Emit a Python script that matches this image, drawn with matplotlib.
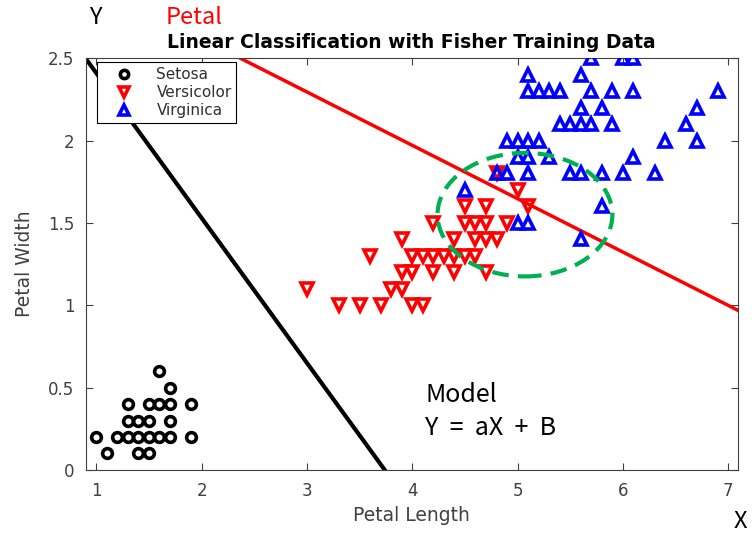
import matplotlib
matplotlib.use("Agg")
from matplotlib import pyplot as plt
from matplotlib.patches import Ellipse

# petal length / petal width
setosa_x = [1.0, 1.1, 1.2, 1.3, 1.4, 1.5, 1.6, 1.7, 1.9, 1.3, 1.4, 1.5, 1.7, 1.3, 1.5, 1.6, 1.7, 1.9, 1.4, 1.5, 1.7, 1.6]
setosa_y = [0.2, 0.1, 0.2, 0.2, 0.2, 0.2, 0.2, 0.2, 0.2, 0.3, 0.3, 0.3, 0.3, 0.4, 0.4, 0.4, 0.4, 0.4, 0.1, 0.1, 0.5, 0.6]

versi_x = [3.3, 3.5, 3.7, 4.0, 4.1,
           3.0, 3.8, 3.9,
           3.9, 4.0, 4.2, 4.4, 4.7,
           3.6, 4.0, 4.1, 4.2, 4.3, 4.4, 4.5, 4.6,
           3.9, 4.4, 4.6, 4.7, 4.8,
           4.2, 4.5, 4.6, 4.7, 4.9,
           4.5, 4.7, 5.1,
           5.0, 4.8]
versi_y = [1.0, 1.0, 1.0, 1.0, 1.0,
           1.1, 1.1, 1.1,
           1.2, 1.2, 1.2, 1.2, 1.2,
           1.3, 1.3, 1.3, 1.3, 1.3, 1.3, 1.3, 1.3,
           1.4, 1.4, 1.4, 1.4, 1.4,
           1.5, 1.5, 1.5, 1.5, 1.5,
           1.6, 1.6, 1.6,
           1.7, 1.8]

virg_x = [5.6, 5.0, 5.1, 5.8, 4.5,
          4.8, 4.9, 5.1, 5.5, 5.6, 5.8, 6.0, 6.3,
          5.0, 5.1, 5.3, 6.1,
          4.9, 5.0, 5.1, 5.2, 6.4, 6.7,
          5.4, 5.5, 5.6, 5.7, 5.9, 6.6,
          5.6, 5.8, 6.7,
          5.1, 5.2, 5.3, 5.4, 5.7, 5.9, 6.1, 6.9,
          5.1, 5.6,
          5.7, 6.0, 6.1]
virg_y = [1.4, 1.5, 1.5, 1.6, 1.7,
          1.8, 1.8, 1.8, 1.8, 1.8, 1.8, 1.8, 1.8,
          1.9, 1.9, 1.9, 1.9,
          2.0, 2.0, 2.0, 2.0, 2.0, 2.0,
          2.1, 2.1, 2.1, 2.1, 2.1, 2.1,
          2.2, 2.2, 2.2,
          2.3, 2.3, 2.3, 2.3, 2.3, 2.3, 2.3, 2.3,
          2.4, 2.4,
          2.5, 2.5, 2.5]

# boundary lines y = a*x + b
black_a, black_b = -0.88, 3.29
red_a, red_b = -0.324, 3.267

fig = plt.figure(figsize=(7.52, 5.34), dpi=100)
ax = fig.add_axes([0.114, 0.12, 0.867, 0.771])

ax.plot(setosa_x, setosa_y, 'o', mfc='none', mec='black', mew=2.6, ms=7, label='Setosa', zorder=3)
ax.plot(versi_x, versi_y, 'v', mfc='none', mec='red', mew=2.6, ms=8, label='Versicolor', zorder=3)
ax.plot(virg_x, virg_y, '^', mfc='none', mec='blue', mew=2.6, ms=8, label='Virginica', zorder=3)

xs = [0.9, 7.1]
ax.plot(xs, [black_a * v + black_b for v in xs], color='black', lw=3, zorder=2)
ax.plot(xs, [red_a * v + red_b for v in xs], color='red', lw=2.5, zorder=2)

ell = Ellipse((5.07, 1.55), 1.66, 0.75, fill=False, ec='#00B050', lw=3,
              ls=(0, (4, 2.2)), zorder=4)
ax.add_patch(ell)

ax.set_xlim(0.9, 7.09)
ax.set_ylim(0, 2.5)
ax.set_xticks([1, 2, 3, 4, 5, 6, 7])
ax.set_yticks([0, 0.5, 1, 1.5, 2, 2.5])
ax.set_yticklabels(['0', '0.5', '1', '1.5', '2', '2.5'])
ax.tick_params(direction='in', top=True, right=True, labelsize=12,
               labelcolor='#404040', color='#404040', length=5)
ax.tick_params(axis='x', pad=9)
ax.tick_params(axis='y', pad=8)
for s in ax.spines.values():
    s.set_color('#404040')

ax.set_xlabel('Petal Length', fontsize=13.5, color='#404040', labelpad=4)
ax.set_ylabel('Petal Width', fontsize=13.5, color='#404040', labelpad=10)
ax.set_title('Linear Classification with Fisher Training Data', fontsize=13.5,
             fontweight='bold', pad=7)

leg = ax.legend(loc='upper left', bbox_to_anchor=(0.017, 0.99), fontsize=11,
                fancybox=False, edgecolor='black', framealpha=1, borderaxespad=0,
                handlelength=3.0, handletextpad=0.6, borderpad=0.3, labelspacing=0.2,
                markerscale=0.85)
leg.get_frame().set_linewidth(0.8)
for t in leg.get_texts():
    t.set_color('#303030')

cjk = ['Noto Sans CJK KR', 'DejaVu Sans']
fig.text(95 / 752, 1 - 18 / 534, 'Y', fontsize=17, family=cjk, ha='center', va='center')
fig.text(166 / 752, 1 - 18 / 534, 'Petal', fontsize=17, family=cjk, color='red', ha='left', va='center')
fig.text(740 / 752, 1 - 521 / 534, 'X', fontsize=17, family=cjk, ha='center', va='center')
fig.text(425 / 752, 1 - 395 / 534, 'Model', fontsize=18, family=cjk, ha='left', va='center')
fig.text(425 / 752, 1 - 428 / 534, 'Y  =  aX  +  B', fontsize=18, family=cjk, ha='left', va='center')

fig.savefig('out.png', dpi=100)
